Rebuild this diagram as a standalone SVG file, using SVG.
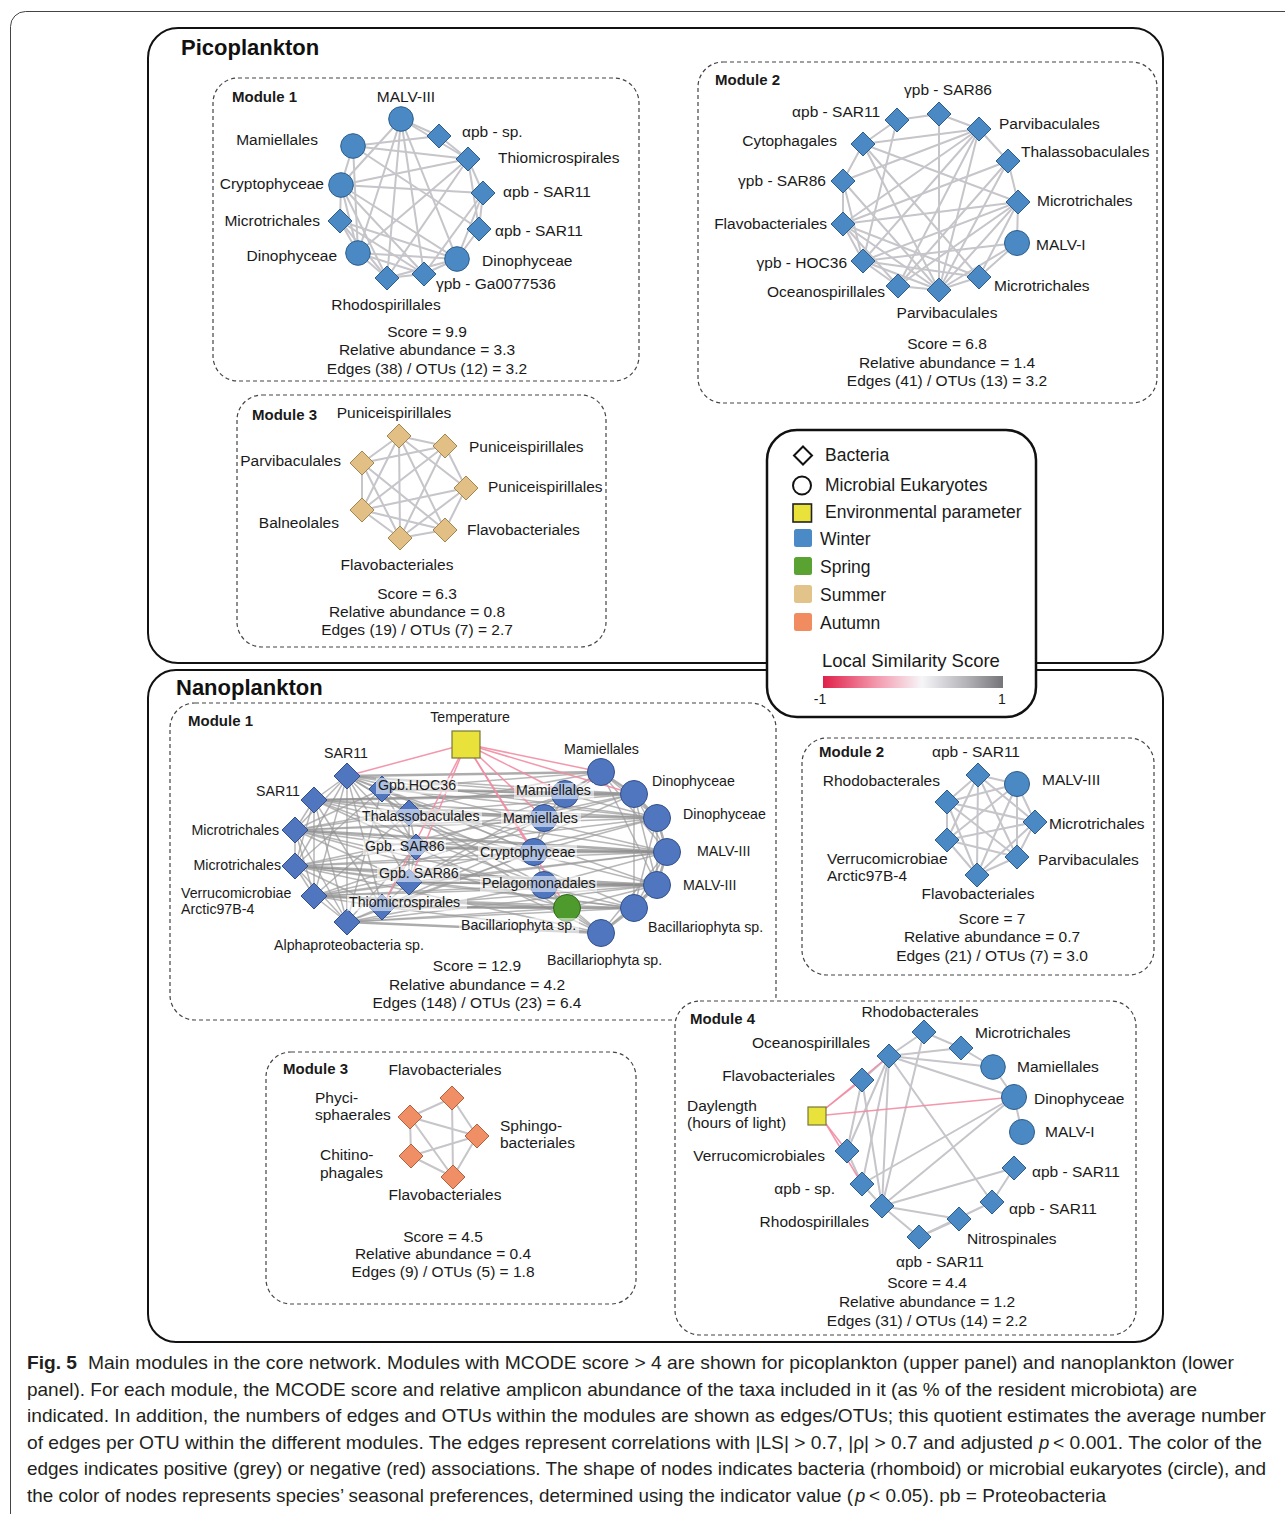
<svg xmlns="http://www.w3.org/2000/svg" xmlns:xlink="http://www.w3.org/1999/xlink" width="1285" height="1514" viewBox="0 0 1285 1514">
<style>
text{font-family:"Liberation Sans",Arial,Helvetica,sans-serif;fill:#1a1a1a}
.l{font-size:15.5px}
.s{font-size:14.2px}
.m{font-size:15px;font-weight:bold}
.c{text-anchor:middle}
.e{text-anchor:end}
.ttl{font-size:22px;font-weight:bold;fill:#111}
.lg{font-size:17.5px}
.cap{font-family:"Liberation Sans Narrow","Liberation Sans",Arial,sans-serif;font-size:18.5px;fill:#231f20}
.panel{fill:none;stroke:#111;stroke-width:2}
.box{fill:none;stroke:#444;stroke-width:1.2;stroke-dasharray:4 3}
.boxw{fill:#fff;stroke:#444;stroke-width:1.2;stroke-dasharray:4 3}
.g line{stroke:#c5c5ca;stroke-width:2;stroke-linecap:round}
.n1 line{stroke:#9a9a9a;stroke-width:1.5;opacity:.7}
.n1 line.t{stroke:#8a8a8a;stroke-width:2.6}
.neg line{stroke:#f28ca3;stroke-width:1.5;opacity:.9}
.w{fill:#4a89c4;stroke:#2c5d8c;stroke-width:1}
.w2{fill:#4f76bf;stroke:#34508a;stroke-width:1}
.sp{fill:#4f9a2c;stroke:#2f6b1a;stroke-width:1}
.su{fill:#e2c085;stroke:#a3864f;stroke-width:1}
.au{fill:#f08f65;stroke:#b4603c;stroke-width:1}
.ye{fill:#e8e23a;stroke:#77773a;stroke-width:1.2}
.bg{fill:#fff;opacity:.55}
</style>
<defs>
<path id="d" d="M0-12L12 0L0 12L-12 0Z"/>
<path id="dl" d="M0-13L13 0L0 13L-13 0Z"/>
<linearGradient id="lss" x1="0" y1="0" x2="1" y2="0">
<stop offset="0" stop-color="#e0204a"/>
<stop offset="0.3" stop-color="#f39aae"/>
<stop offset="0.55" stop-color="#f6f6f9"/>
<stop offset="0.8" stop-color="#b2b2b7"/>
<stop offset="1" stop-color="#757579"/>
</linearGradient>
</defs>
<rect width="1285" height="1514" fill="#fff"/>
<rect x="10.5" y="11.5" width="1320" height="1620" rx="15" fill="none" stroke="#444" stroke-width="1"/>

<!-- panels -->
<rect class="panel" x="148" y="28" width="1015" height="635" rx="30"/>
<rect class="panel" x="148" y="670" width="1015" height="672" rx="28"/>
<text class="ttl" x="181" y="55">Picoplankton</text>
<text class="ttl" x="176" y="695">Nanoplankton</text>

<!-- module boxes -->
<rect class="box" x="213" y="78" width="426" height="303" rx="25"/>
<rect class="box" x="698" y="62" width="459" height="341" rx="25"/>
<rect class="box" x="237" y="395" width="369" height="252" rx="25"/>
<rect class="box" x="170" y="703" width="606" height="317" rx="25"/>
<rect class="box" x="802" y="738" width="352" height="237" rx="25"/>
<rect class="box" x="266" y="1052" width="370" height="252" rx="25"/>
<rect class="boxw" x="675" y="1001" width="461" height="334" rx="25"/>

<!-- connectors -->
<g id="connectors">
<g class="g" id="pico-m1-edges">
<line x1="401" y1="119" x2="439" y2="136"/><line x1="401" y1="119" x2="468" y2="159"/><line x1="401" y1="119" x2="341" y2="185"/><line x1="401" y1="119" x2="358" y2="253"/><line x1="401" y1="119" x2="387" y2="278"/><line x1="401" y1="119" x2="424" y2="274"/><line x1="401" y1="119" x2="457" y2="259"/>
<line x1="353" y1="146" x2="439" y2="136"/><line x1="353" y1="146" x2="468" y2="159"/><line x1="353" y1="146" x2="479" y2="229"/><line x1="353" y1="146" x2="341" y2="185"/><line x1="353" y1="146" x2="358" y2="253"/>
<line x1="341" y1="185" x2="468" y2="159"/><line x1="341" y1="185" x2="483" y2="193"/><line x1="341" y1="185" x2="457" y2="259"/><line x1="341" y1="185" x2="424" y2="274"/><line x1="341" y1="185" x2="387" y2="278"/><line x1="341" y1="185" x2="340" y2="221"/><line x1="341" y1="185" x2="358" y2="253"/>
<line x1="340" y1="221" x2="358" y2="253"/><line x1="340" y1="221" x2="387" y2="278"/><line x1="340" y1="221" x2="457" y2="259"/><line x1="340" y1="221" x2="424" y2="274"/>
<line x1="358" y1="253" x2="387" y2="278"/><line x1="358" y1="253" x2="424" y2="274"/><line x1="358" y1="253" x2="457" y2="259"/><line x1="358" y1="253" x2="468" y2="159"/>
<line x1="387" y1="278" x2="424" y2="274"/><line x1="387" y1="278" x2="457" y2="259"/><line x1="387" y1="278" x2="468" y2="159"/>
<line x1="424" y1="274" x2="457" y2="259"/><line x1="424" y1="274" x2="483" y2="193"/>
<line x1="457" y1="259" x2="479" y2="229"/><line x1="457" y1="259" x2="483" y2="193"/>
<line x1="479" y1="229" x2="483" y2="193"/><line x1="479" y1="229" x2="468" y2="159"/><line x1="483" y1="193" x2="468" y2="159"/><line x1="468" y1="159" x2="439" y2="136"/>
</g>
<g class="g" id="pico-m2-edges">
<line x1="897" y1="120" x2="939" y2="114"/><line x1="939" y1="114" x2="979" y2="129"/><line x1="897" y1="120" x2="863" y2="144"/><line x1="897" y1="120" x2="863" y2="261"/><line x1="939" y1="114" x2="939" y2="290"/>
<line x1="979" y1="129" x2="863" y2="144"/><line x1="979" y1="129" x2="843" y2="181"/><line x1="979" y1="129" x2="843" y2="224"/><line x1="979" y1="129" x2="863" y2="261"/><line x1="979" y1="129" x2="898" y2="286"/><line x1="979" y1="129" x2="939" y2="290"/><line x1="979" y1="129" x2="1008" y2="161"/>
<line x1="863" y1="144" x2="843" y2="181"/><line x1="863" y1="144" x2="1018" y2="202"/><line x1="863" y1="144" x2="939" y2="290"/><line x1="863" y1="144" x2="979" y2="277"/>
<line x1="1008" y1="161" x2="1018" y2="202"/><line x1="1008" y1="161" x2="843" y2="224"/><line x1="1008" y1="161" x2="939" y2="290"/><line x1="1008" y1="161" x2="898" y2="286"/>
<line x1="843" y1="181" x2="843" y2="224"/><line x1="843" y1="181" x2="939" y2="290"/><line x1="843" y1="181" x2="863" y2="261"/>
<line x1="1018" y1="202" x2="843" y2="224"/><line x1="1018" y1="202" x2="863" y2="261"/><line x1="1018" y1="202" x2="898" y2="286"/><line x1="1018" y1="202" x2="939" y2="290"/><line x1="1018" y1="202" x2="1017" y2="243"/><line x1="1018" y1="202" x2="979" y2="277"/>
<line x1="843" y1="224" x2="863" y2="261"/><line x1="843" y1="224" x2="979" y2="277"/><line x1="843" y1="224" x2="939" y2="290"/><line x1="843" y1="224" x2="898" y2="286"/>
<line x1="1017" y1="243" x2="979" y2="277"/><line x1="1017" y1="243" x2="863" y2="261"/><line x1="1017" y1="243" x2="939" y2="290"/>
<line x1="863" y1="261" x2="898" y2="286"/><line x1="863" y1="261" x2="939" y2="290"/><line x1="863" y1="261" x2="979" y2="277"/>
<line x1="979" y1="277" x2="939" y2="290"/><line x1="898" y1="286" x2="939" y2="290"/>
</g>
<g class="g" id="pico-m3-edges">
<line x1="399" y1="436" x2="445" y2="446"/><line x1="399" y1="436" x2="362" y2="463"/><line x1="399" y1="436" x2="466" y2="488"/><line x1="399" y1="436" x2="362" y2="510"/><line x1="399" y1="436" x2="445" y2="530"/><line x1="399" y1="436" x2="400" y2="538"/>
<line x1="445" y1="446" x2="362" y2="463"/><line x1="445" y1="446" x2="466" y2="488"/><line x1="445" y1="446" x2="362" y2="510"/><line x1="445" y1="446" x2="400" y2="538"/>
<line x1="362" y1="463" x2="362" y2="510"/><line x1="362" y1="463" x2="445" y2="530"/><line x1="362" y1="463" x2="400" y2="538"/>
<line x1="466" y1="488" x2="362" y2="510"/><line x1="466" y1="488" x2="445" y2="530"/><line x1="466" y1="488" x2="400" y2="538"/>
<line x1="362" y1="510" x2="445" y2="530"/><line x1="362" y1="510" x2="400" y2="538"/><line x1="445" y1="530" x2="400" y2="538"/>
</g>
<g class="n1" id="nano-m1-edges">
<line x1="347" y1="776" x2="314" y2="800"/><line x1="347" y1="776" x2="295" y2="830"/><line x1="347" y1="776" x2="295" y2="866"/><line x1="347" y1="776" x2="314" y2="896"/><line x1="347" y1="776" x2="347" y2="922"/>
<line x1="314" y1="800" x2="295" y2="830"/><line x1="314" y1="800" x2="295" y2="866"/><line x1="314" y1="800" x2="314" y2="896"/><line x1="314" y1="800" x2="347" y2="922"/>
<line x1="295" y1="830" x2="295" y2="866"/><line x1="295" y1="830" x2="314" y2="896"/><line x1="295" y1="830" x2="347" y2="922"/>
<line x1="295" y1="866" x2="314" y2="896"/><line x1="295" y1="866" x2="347" y2="922"/><line x1="314" y1="896" x2="347" y2="922"/>
<line x1="347" y1="776" x2="382" y2="789"/><line x1="347" y1="776" x2="409" y2="813"/><line x1="347" y1="776" x2="416" y2="847"/><line x1="347" y1="776" x2="409" y2="882"/><line x1="347" y1="776" x2="382" y2="907"/>
<line x1="314" y1="800" x2="409" y2="813"/><line x1="314" y1="800" x2="416" y2="847"/><line x1="314" y1="800" x2="382" y2="907"/>
<line x1="295" y1="830" x2="382" y2="789"/><line x1="295" y1="830" x2="409" y2="813"/><line x1="295" y1="830" x2="416" y2="847"/><line x1="295" y1="830" x2="409" y2="882"/>
<line x1="295" y1="866" x2="382" y2="789"/><line x1="295" y1="866" x2="416" y2="847"/><line x1="295" y1="866" x2="409" y2="882"/><line x1="295" y1="866" x2="382" y2="907"/>
<line x1="314" y1="896" x2="409" y2="813"/><line x1="314" y1="896" x2="409" y2="882"/><line x1="314" y1="896" x2="382" y2="907"/>
<line x1="347" y1="922" x2="382" y2="789"/><line x1="347" y1="922" x2="416" y2="847"/><line x1="347" y1="922" x2="382" y2="907"/>
<line x1="347" y1="776" x2="565" y2="794"/><line class="t" x1="347" y1="776" x2="601" y2="772"/><line x1="347" y1="776" x2="634" y2="794"/><line x1="347" y1="776" x2="534" y2="852"/><line x1="347" y1="776" x2="667" y2="852"/><line x1="347" y1="776" x2="601" y2="933"/>
<line x1="314" y1="800" x2="565" y2="794"/><line class="t" x1="314" y1="800" x2="634" y2="794"/><line x1="314" y1="800" x2="544" y2="818"/><line x1="314" y1="800" x2="657" y2="818"/><line x1="314" y1="800" x2="544" y2="885"/>
<line x1="295" y1="830" x2="544" y2="818"/><line x1="295" y1="830" x2="534" y2="852"/><line class="t" x1="295" y1="830" x2="667" y2="852"/><line x1="295" y1="830" x2="657" y2="818"/><line x1="295" y1="830" x2="634" y2="908"/><line x1="295" y1="830" x2="567" y2="908"/>
<line x1="295" y1="866" x2="534" y2="852"/><line x1="295" y1="866" x2="544" y2="885"/><line class="t" x1="295" y1="866" x2="657" y2="885"/><line x1="295" y1="866" x2="667" y2="852"/><line x1="295" y1="866" x2="634" y2="794"/><line x1="295" y1="866" x2="634" y2="908"/>
<line x1="314" y1="896" x2="544" y2="885"/><line class="t" x1="314" y1="896" x2="567" y2="908"/><line x1="314" y1="896" x2="634" y2="908"/><line x1="314" y1="896" x2="657" y2="885"/><line x1="314" y1="896" x2="544" y2="818"/><line x1="314" y1="896" x2="657" y2="818"/>
<line x1="347" y1="922" x2="567" y2="908"/><line class="t" x1="347" y1="922" x2="601" y2="933"/><line x1="347" y1="922" x2="634" y2="908"/><line x1="347" y1="922" x2="544" y2="885"/><line x1="347" y1="922" x2="657" y2="885"/>
<line x1="382" y1="789" x2="565" y2="794"/><line x1="382" y1="789" x2="601" y2="772"/><line class="t" x1="382" y1="789" x2="634" y2="794"/><line x1="382" y1="789" x2="534" y2="852"/><line x1="382" y1="789" x2="657" y2="885"/>
<line x1="409" y1="813" x2="544" y2="818"/><line x1="409" y1="813" x2="634" y2="794"/><line class="t" x1="409" y1="813" x2="657" y2="818"/><line x1="409" y1="813" x2="544" y2="885"/><line x1="409" y1="813" x2="634" y2="908"/>
<line x1="416" y1="847" x2="534" y2="852"/><line x1="416" y1="847" x2="657" y2="818"/><line class="t" x1="416" y1="847" x2="667" y2="852"/><line x1="416" y1="847" x2="565" y2="794"/><line x1="416" y1="847" x2="601" y2="933"/>
<line x1="409" y1="882" x2="544" y2="885"/><line x1="409" y1="882" x2="667" y2="852"/><line class="t" x1="409" y1="882" x2="657" y2="885"/><line x1="409" y1="882" x2="544" y2="818"/><line x1="409" y1="882" x2="601" y2="772"/>
<line x1="382" y1="907" x2="567" y2="908"/><line class="t" x1="382" y1="907" x2="634" y2="908"/><line x1="382" y1="907" x2="601" y2="933"/><line x1="382" y1="907" x2="657" y2="885"/><line x1="382" y1="907" x2="534" y2="852"/>
<line class="t" x1="601" y1="772" x2="634" y2="794"/><line class="t" x1="634" y1="794" x2="657" y2="818"/><line class="t" x1="657" y1="818" x2="667" y2="852"/><line class="t" x1="667" y1="852" x2="657" y2="885"/><line class="t" x1="657" y1="885" x2="634" y2="908"/><line class="t" x1="634" y1="908" x2="601" y2="933"/>
<line x1="601" y1="772" x2="565" y2="794"/><line x1="601" y1="772" x2="657" y2="818"/><line x1="601" y1="772" x2="667" y2="852"/><line x1="601" y1="772" x2="544" y2="818"/>
<line x1="634" y1="794" x2="667" y2="852"/><line x1="634" y1="794" x2="657" y2="885"/><line x1="634" y1="794" x2="544" y2="818"/>
<line x1="657" y1="818" x2="657" y2="885"/><line x1="657" y1="818" x2="634" y2="908"/><line x1="657" y1="818" x2="534" y2="852"/>
<line x1="667" y1="852" x2="634" y2="908"/><line x1="667" y1="852" x2="601" y2="933"/><line x1="667" y1="852" x2="544" y2="885"/>
<line x1="657" y1="885" x2="601" y2="933"/><line x1="657" y1="885" x2="567" y2="908"/><line x1="634" y1="908" x2="567" y2="908"/><line x1="601" y1="933" x2="567" y2="908"/><line x1="601" y1="933" x2="544" y2="885"/>
<line x1="565" y1="794" x2="544" y2="818"/><line x1="544" y1="818" x2="534" y2="852"/><line x1="534" y1="852" x2="544" y2="885"/><line x1="544" y1="885" x2="567" y2="908"/>
<line x1="565" y1="794" x2="634" y2="794"/><line x1="565" y1="794" x2="657" y2="818"/><line class="t" x1="534" y1="852" x2="667" y2="852"/><line class="t" x1="544" y1="885" x2="657" y2="885"/><line x1="634" y1="794" x2="634" y2="908"/><line x1="601" y1="772" x2="657" y2="885"/><line x1="565" y1="794" x2="534" y2="852"/>
<line x1="382" y1="789" x2="409" y2="813"/><line x1="409" y1="813" x2="416" y2="847"/><line x1="416" y1="847" x2="409" y2="882"/><line x1="409" y1="882" x2="382" y2="907"/><line x1="382" y1="789" x2="416" y2="847"/><line x1="409" y1="813" x2="409" y2="882"/><line x1="416" y1="847" x2="382" y2="907"/>
<line x1="382" y1="789" x2="657" y2="818"/><line x1="409" y1="813" x2="667" y2="852"/><line x1="409" y1="882" x2="634" y2="908"/><line x1="382" y1="907" x2="634" y2="794"/><line x1="347" y1="776" x2="657" y2="818"/><line x1="314" y1="800" x2="657" y2="885"/><line x1="347" y1="922" x2="534" y2="852"/><line x1="295" y1="830" x2="601" y2="772"/><line x1="295" y1="866" x2="601" y2="933"/><line x1="314" y1="896" x2="667" y2="852"/>
</g>
<g class="neg" id="nano-m1-neg">
<line x1="466" y1="744" x2="347" y2="776"/><line x1="466" y1="744" x2="601" y2="772"/><line x1="466" y1="744" x2="634" y2="794"/><line x1="466" y1="744" x2="565" y2="794"/><line x1="466" y1="744" x2="544" y2="818"/><line x1="466" y1="744" x2="534" y2="852"/><line x1="466" y1="744" x2="567" y2="908"/><line x1="466" y1="744" x2="382" y2="907"/><line x1="466" y1="744" x2="409" y2="882"/>
</g>
<g class="g" id="nano-m2-edges">
<line x1="978" y1="775" x2="1017" y2="784"/><line x1="978" y1="775" x2="947" y2="802"/><line x1="978" y1="775" x2="1035" y2="822"/><line x1="978" y1="775" x2="947" y2="840"/><line x1="978" y1="775" x2="1017" y2="857"/><line x1="978" y1="775" x2="977" y2="875"/>
<line x1="1017" y1="784" x2="947" y2="802"/><line x1="1017" y1="784" x2="1035" y2="822"/><line x1="1017" y1="784" x2="947" y2="840"/><line x1="1017" y1="784" x2="1017" y2="857"/><line x1="1017" y1="784" x2="977" y2="875"/>
<line x1="947" y1="802" x2="1035" y2="822"/><line x1="947" y1="802" x2="947" y2="840"/><line x1="947" y1="802" x2="1017" y2="857"/><line x1="947" y1="802" x2="977" y2="875"/>
<line x1="1035" y1="822" x2="947" y2="840"/><line x1="1035" y1="822" x2="1017" y2="857"/><line x1="1035" y1="822" x2="977" y2="875"/>
<line x1="947" y1="840" x2="1017" y2="857"/><line x1="947" y1="840" x2="977" y2="875"/><line x1="1017" y1="857" x2="977" y2="875"/>
</g>
<g class="g" id="nano-m3-edges">
<line x1="452" y1="1098" x2="410" y2="1117"/><line x1="452" y1="1098" x2="477" y2="1136"/><line x1="452" y1="1098" x2="453" y2="1177"/><line x1="410" y1="1117" x2="477" y2="1136"/><line x1="410" y1="1117" x2="411" y2="1156"/><line x1="410" y1="1117" x2="453" y2="1177"/><line x1="411" y1="1156" x2="477" y2="1136"/><line x1="411" y1="1156" x2="453" y2="1177"/><line x1="477" y1="1136" x2="453" y2="1177"/>
</g>
<g class="g" id="nano-m4-edges">
<line x1="924" y1="1032" x2="889" y2="1056"/><line x1="924" y1="1032" x2="961" y2="1048"/><line x1="924" y1="1032" x2="882" y2="1206"/>
<line x1="889" y1="1056" x2="961" y2="1048"/><line x1="889" y1="1056" x2="993" y2="1067"/><line x1="889" y1="1056" x2="1014" y2="1097"/><line x1="889" y1="1056" x2="862" y2="1080"/><line x1="889" y1="1056" x2="847" y2="1151"/><line x1="889" y1="1056" x2="862" y2="1184"/><line x1="889" y1="1056" x2="882" y2="1206"/><line x1="889" y1="1056" x2="992" y2="1202"/>
<line x1="961" y1="1048" x2="993" y2="1067"/><line x1="993" y1="1067" x2="1014" y2="1097"/><line x1="1014" y1="1097" x2="1022" y2="1132"/>
<line x1="1014" y1="1097" x2="862" y2="1184"/><line x1="1014" y1="1097" x2="882" y2="1206"/>
<line x1="862" y1="1080" x2="847" y2="1151"/><line x1="862" y1="1080" x2="882" y2="1206"/>
<line x1="847" y1="1151" x2="862" y2="1184"/><line x1="862" y1="1184" x2="882" y2="1206"/>
<line x1="882" y1="1206" x2="919" y2="1237"/><line x1="882" y1="1206" x2="959" y2="1219"/><line x1="882" y1="1206" x2="1014" y2="1168"/>
<line x1="919" y1="1237" x2="959" y2="1219"/><line x1="919" y1="1237" x2="992" y2="1202"/><line x1="992" y1="1202" x2="1014" y2="1168"/>
</g>
<g class="neg" id="nano-m4-neg">
<line x1="826" y1="1108" x2="889" y2="1056"/><line x1="826" y1="1108" x2="862" y2="1080"/><line x1="826" y1="1115" x2="1014" y2="1097"/><line x1="826" y1="1124" x2="847" y2="1151"/><line x1="826" y1="1124" x2="862" y2="1184"/>
</g>
</g>

<!-- Pico module 1 -->
<g id="pico-m1">
<text class="m" x="232" y="102">Module 1</text>
<g id="p1-malv"><circle class="w" cx="401" cy="119" r="12.3"/><text class="l c" x="406" y="102">MALV-III</text></g>
<g id="p1-asp"><use href="#d" class="w" x="439" y="136"/><text class="l" x="462" y="137">αpb - sp.</text></g>
<g id="p1-thio"><use href="#d" class="w" x="468" y="159"/><text class="l" x="498" y="163">Thiomicrospirales</text></g>
<g id="p1-sar11a"><use href="#d" class="w" x="483" y="193"/><text class="l" x="503" y="197">αpb - SAR11</text></g>
<g id="p1-sar11b"><use href="#d" class="w" x="479" y="229"/><text class="l" x="495" y="236">αpb - SAR11</text></g>
<g id="p1-dinor"><circle class="w" cx="457" cy="259" r="12.3"/><text class="l" x="482" y="266">Dinophyceae</text></g>
<g id="p1-gpb"><use href="#d" class="w" x="424" y="274"/><text class="l" x="436" y="289">γpb - Ga0077536</text></g>
<g id="p1-rhodo"><use href="#d" class="w" x="387" y="278"/><text class="l c" x="386" y="310">Rhodospirillales</text></g>
<g id="p1-dinol"><circle class="w" cx="358" cy="253" r="12.3"/><text class="l e" x="337" y="261">Dinophyceae</text></g>
<g id="p1-micro"><use href="#d" class="w" x="340" y="221"/><text class="l e" x="320" y="226">Microtrichales</text></g>
<g id="p1-crypto"><circle class="w" cx="341" cy="185" r="12.3"/><text class="l e" x="324" y="189">Cryptophyceae</text></g>
<g id="p1-mamiel"><circle class="w" cx="353" cy="146" r="12.3"/><text class="l e" x="318" y="145">Mamiellales</text></g>
<text class="l c" x="427" y="337">Score = 9.9</text>
<text class="l c" x="427" y="355">Relative abundance = 3.3</text>
<text class="l c" x="427" y="374">Edges (38) / OTUs (12) = 3.2</text>
</g>

<!-- Pico module 2 -->
<g id="pico-m2">
<text class="m" x="715" y="85">Module 2</text>
<g id="p2-sar86t"><use href="#d" class="w" x="939" y="114"/><text class="l c" x="948" y="95">γpb - SAR86</text></g>
<g id="p2-sar11"><use href="#d" class="w" x="897" y="120"/><text class="l e" x="880" y="117">αpb - SAR11</text></g>
<g id="p2-parvi"><use href="#d" class="w" x="979" y="129"/><text class="l" x="999" y="129">Parvibaculales</text></g>
<g id="p2-cyto"><use href="#d" class="w" x="863" y="144"/><text class="l e" x="837" y="146">Cytophagales</text></g>
<g id="p2-thal"><use href="#d" class="w" x="1008" y="161"/><text class="l" x="1021" y="157">Thalassobaculales</text></g>
<g id="p2-sar86"><use href="#d" class="w" x="843" y="181"/><text class="l e" x="826" y="186">γpb - SAR86</text></g>
<g id="p2-micro"><use href="#d" class="w" x="1018" y="202"/><text class="l" x="1037" y="206">Microtrichales</text></g>
<g id="p2-flavo"><use href="#d" class="w" x="843" y="224"/><text class="l e" x="827" y="229">Flavobacteriales</text></g>
<g id="p2-malv"><circle class="w" cx="1017" cy="243" r="12.5"/><text class="l" x="1036" y="250">MALV-I</text></g>
<g id="p2-hoc36"><use href="#d" class="w" x="863" y="261"/><text class="l e" x="847" y="268">γpb - HOC36</text></g>
<g id="p2-micro2"><use href="#d" class="w" x="979" y="277"/><text class="l" x="994" y="291">Microtrichales</text></g>
<g id="p2-oceano"><use href="#d" class="w" x="898" y="286"/><text class="l e" x="885" y="297">Oceanospirillales</text></g>
<g id="p2-parvi2"><use href="#d" class="w" x="939" y="290"/><text class="l c" x="947" y="318">Parvibaculales</text></g>
<text class="l c" x="947" y="349">Score = 6.8</text>
<text class="l c" x="947" y="368">Relative abundance = 1.4</text>
<text class="l c" x="947" y="386">Edges (41) / OTUs (13) = 3.2</text>
</g>

<!-- Pico module 3 -->
<g id="pico-m3">
<text class="m" x="252" y="420">Module 3</text>
<g id="p3-puni1"><use href="#d" class="su" x="399" y="436"/><text class="l c" x="394" y="418">Puniceispirillales</text></g>
<g id="p3-puni2"><use href="#d" class="su" x="445" y="446"/><text class="l" x="469" y="452">Puniceispirillales</text></g>
<g id="p3-parvi"><use href="#d" class="su" x="362" y="463"/><text class="l e" x="341" y="466">Parvibaculales</text></g>
<g id="p3-puni3"><use href="#d" class="su" x="466" y="488"/><text class="l" x="488" y="492">Puniceispirillales</text></g>
<g id="p3-balneo"><use href="#d" class="su" x="362" y="510"/><text class="l e" x="339" y="528">Balneolales</text></g>
<g id="p3-flavo1"><use href="#d" class="su" x="445" y="530"/><text class="l" x="467" y="535">Flavobacteriales</text></g>
<g id="p3-flavo2"><use href="#d" class="su" x="400" y="538"/><text class="l c" x="397" y="570">Flavobacteriales</text></g>
<text class="l c" x="417" y="599">Score = 6.3</text>
<text class="l c" x="417" y="617">Relative abundance = 0.8</text>
<text class="l c" x="417" y="635">Edges (19) / OTUs (7) = 2.7</text>
</g>

<!-- Nano module 1 -->
<g id="nano-m1">
<text class="m" x="188" y="726">Module 1</text>
<g id="n1-temp"><rect class="ye" x="452" y="731" width="28" height="27"/><text class="s c" x="470" y="722">Temperature</text></g>
<g id="n1-sar11a"><use href="#dl" class="w2" x="347" y="776"/><text class="s c" x="346" y="758">SAR11</text></g>
<g id="n1-sar11b"><use href="#dl" class="w2" x="314" y="800"/><text class="s e" x="300" y="796">SAR11</text></g>
<g id="n1-micro1"><use href="#dl" class="w2" x="295" y="830"/><text class="s e" x="279" y="835">Microtrichales</text></g>
<g id="n1-micro2"><use href="#dl" class="w2" x="295" y="866"/><text class="s e" x="281" y="870">Microtrichales</text></g>
<g id="n1-verru"><use href="#dl" class="w2" x="314" y="896"/><text class="s" x="181" y="898">Verrucomicrobiae</text><text class="s" x="181" y="914">Arctic97B-4</text></g>
<g id="n1-alpha"><use href="#dl" class="w2" x="347" y="922"/><text class="s c" x="349" y="950">Alphaproteobacteria sp.</text></g>
<g id="n1-mamo"><circle class="w2" cx="601" cy="772" r="13.5"/><text class="s" x="564" y="754">Mamiellales</text></g>
<g id="n1-dino1"><circle class="w2" cx="634" cy="794" r="13.5"/><text class="s" x="652" y="786">Dinophyceae</text></g>
<g id="n1-dino2"><circle class="w2" cx="657" cy="818" r="13.5"/><text class="s" x="683" y="819">Dinophyceae</text></g>
<g id="n1-malv1"><circle class="w2" cx="667" cy="852" r="13.5"/><text class="s" x="697" y="856">MALV-III</text></g>
<g id="n1-malv2"><circle class="w2" cx="657" cy="885" r="13.5"/><text class="s" x="683" y="890">MALV-III</text></g>
<g id="n1-bac1"><circle class="w2" cx="634" cy="908" r="13.5"/><text class="s" x="648" y="932">Bacillariophyta sp.</text></g>
<g id="n1-bac2"><circle class="w2" cx="601" cy="933" r="13.5"/><text class="s" x="547" y="965">Bacillariophyta sp.</text></g>
<g id="n1-hoc36"><use href="#dl" class="w2" x="382" y="789"/><rect class="bg" x="376" y="778" width="82" height="16"/><text class="s" x="378" y="790">Gpb.HOC36</text></g>
<g id="n1-thal"><use href="#dl" class="w2" x="409" y="813"/><rect class="bg" x="360" y="809" width="122" height="16"/><text class="s" x="362" y="821">Thalassobaculales</text></g>
<g id="n1-sar86a"><use href="#dl" class="w2" x="416" y="847"/><rect class="bg" x="363" y="839" width="83" height="16"/><text class="s" x="365" y="851">Gpb. SAR86</text></g>
<g id="n1-sar86b"><use href="#dl" class="w2" x="409" y="882"/><rect class="bg" x="377" y="866" width="83" height="16"/><text class="s" x="379" y="878">Gpb. SAR86</text></g>
<g id="n1-thio"><use href="#dl" class="w2" x="382" y="907"/><rect class="bg" x="347" y="895" width="120" height="16"/><text class="s" x="349" y="907">Thiomicrospirales</text></g>
<g id="n1-mami1"><circle class="w2" cx="565" cy="794" r="13.5"/><rect class="bg" x="514" y="783" width="80" height="16"/><text class="s" x="516" y="795">Mamiellales</text></g>
<g id="n1-mami2"><circle class="w2" cx="544" cy="818" r="13.5"/><rect class="bg" x="501" y="811" width="80" height="16"/><text class="s" x="503" y="823">Mamiellales</text></g>
<g id="n1-crypto"><circle class="w2" cx="534" cy="852" r="13.5"/><rect class="bg" x="478" y="845" width="99" height="16"/><text class="s" x="480" y="857">Cryptophyceae</text></g>
<g id="n1-pelago"><circle class="w2" cx="544" cy="885" r="13.5"/><rect class="bg" x="480" y="876" width="117" height="16"/><text class="s" x="482" y="888">Pelagomonadales</text></g>
<g id="n1-bacg"><circle class="sp" cx="567" cy="908" r="13.5"/><rect class="bg" x="459" y="918" width="120" height="16"/><text class="s" x="461" y="930">Bacillariophyta sp.</text></g>
<text class="l c" x="477" y="971">Score = 12.9</text>
<text class="l c" x="477" y="990">Relative abundance = 4.2</text>
<text class="l c" x="477" y="1008">Edges (148) / OTUs (23) = 6.4</text>
</g>

<!-- Nano module 2 -->
<g id="nano-m2">
<text class="m" x="819" y="757">Module 2</text>
<g id="n2-sar11"><use href="#d" class="w" x="978" y="775"/><text class="l c" x="976" y="757">αpb - SAR11</text></g>
<g id="n2-malv"><circle class="w" cx="1017" cy="784" r="12.5"/><text class="l" x="1042" y="785">MALV-III</text></g>
<g id="n2-rhodo"><use href="#d" class="w" x="947" y="802"/><text class="l e" x="940" y="786">Rhodobacterales</text></g>
<g id="n2-micro"><use href="#d" class="w" x="1035" y="822"/><text class="l" x="1049" y="829">Microtrichales</text></g>
<g id="n2-verru"><use href="#d" class="w" x="947" y="840"/><text class="l" x="827" y="864">Verrucomicrobiae</text><text class="l" x="827" y="881">Arctic97B-4</text></g>
<g id="n2-parvi"><use href="#d" class="w" x="1017" y="857"/><text class="l" x="1038" y="865">Parvibaculales</text></g>
<g id="n2-flavo"><use href="#d" class="w" x="977" y="875"/><text class="l c" x="978" y="899">Flavobacteriales</text></g>
<text class="l c" x="992" y="924">Score = 7</text>
<text class="l c" x="992" y="942">Relative abundance = 0.7</text>
<text class="l c" x="992" y="961">Edges (21) / OTUs (7) = 3.0</text>
</g>

<!-- Nano module 3 -->
<g id="nano-m3">
<text class="m" x="283" y="1074">Module 3</text>
<g id="n3-flavo1"><use href="#d" class="au" x="452" y="1098"/><text class="l c" x="445" y="1075">Flavobacteriales</text></g>
<g id="n3-phyci"><use href="#d" class="au" x="410" y="1117"/><text class="l" x="315" y="1103">Phyci-</text><text class="l" x="315" y="1120">sphaerales</text></g>
<g id="n3-sphingo"><use href="#d" class="au" x="477" y="1136"/><text class="l" x="500" y="1131">Sphingo-</text><text class="l" x="500" y="1148">bacteriales</text></g>
<g id="n3-chitino"><use href="#d" class="au" x="411" y="1156"/><text class="l" x="320" y="1160">Chitino-</text><text class="l" x="320" y="1178">phagales</text></g>
<g id="n3-flavo2"><use href="#d" class="au" x="453" y="1177"/><text class="l c" x="445" y="1200">Flavobacteriales</text></g>
<text class="l c" x="443" y="1242">Score = 4.5</text>
<text class="l c" x="443" y="1259">Relative abundance = 0.4</text>
<text class="l c" x="443" y="1277">Edges (9) / OTUs (5) = 1.8</text>
</g>

<!-- Nano module 4 -->
<g id="nano-m4">
<text class="m" x="690" y="1024">Module 4</text>
<g id="n4-rhodob"><use href="#d" class="w" x="924" y="1032"/><text class="l c" x="920" y="1017">Rhodobacterales</text></g>
<g id="n4-micro"><use href="#d" class="w" x="961" y="1048"/><text class="l" x="975" y="1038">Microtrichales</text></g>
<g id="n4-oceano"><use href="#d" class="w" x="889" y="1056"/><text class="l e" x="870" y="1048">Oceanospirillales</text></g>
<g id="n4-mami"><circle class="w" cx="993" cy="1067" r="12.3"/><text class="l" x="1017" y="1072">Mamiellales</text></g>
<g id="n4-flavo"><use href="#d" class="w" x="862" y="1080"/><text class="l e" x="835" y="1081">Flavobacteriales</text></g>
<g id="n4-dino"><circle class="w" cx="1014" cy="1097" r="12.5"/><text class="l" x="1034" y="1104">Dinophyceae</text></g>
<g id="n4-day"><rect class="ye" x="808" y="1107" width="18" height="18"/><text class="l" x="687" y="1111">Daylength</text><text class="l" x="687" y="1128">(hours of light)</text></g>
<g id="n4-malv"><circle class="w" cx="1022" cy="1132" r="12.5"/><text class="l" x="1045" y="1137">MALV-I</text></g>
<g id="n4-verru"><use href="#d" class="w" x="847" y="1151"/><text class="l e" x="825" y="1161">Verrucomicrobiales</text></g>
<g id="n4-sar11a"><use href="#d" class="w" x="1014" y="1168"/><text class="l" x="1032" y="1177">αpb - SAR11</text></g>
<g id="n4-asp"><use href="#d" class="w" x="862" y="1184"/><text class="l e" x="835" y="1194">αpb - sp.</text></g>
<g id="n4-sar11b"><use href="#d" class="w" x="992" y="1202"/><text class="l" x="1009" y="1214">αpb - SAR11</text></g>
<g id="n4-rhodos"><use href="#d" class="w" x="882" y="1206"/><text class="l e" x="869" y="1227">Rhodospirillales</text></g>
<g id="n4-nitro"><use href="#d" class="w" x="959" y="1219"/><text class="l" x="967" y="1244">Nitrospinales</text></g>
<g id="n4-sar11c"><use href="#d" class="w" x="919" y="1237"/><text class="l c" x="940" y="1267">αpb - SAR11</text></g>
<text class="l c" x="927" y="1288">Score = 4.4</text>
<text class="l c" x="927" y="1307">Relative abundance = 1.2</text>
<text class="l c" x="927" y="1326">Edges (31) / OTUs (14) = 2.2</text>
</g>

<!-- Legend -->
<g id="legend">
<rect x="767" y="430" width="269" height="287" rx="30" fill="#fff" stroke="#111" stroke-width="2.5"/>
<path d="M803 446.5L812 455.5L803 464.5L794 455.5Z" fill="#fff" stroke="#111" stroke-width="2"/>
<circle cx="802" cy="485.5" r="9" fill="#fff" stroke="#111" stroke-width="2"/>
<rect x="793" y="504" width="18.5" height="18" fill="#e8e23a" stroke="#222" stroke-width="1.6"/>
<rect x="794" y="529" width="18" height="18" rx="2.5" fill="#4a8ac6"/>
<rect x="794" y="557" width="18" height="18" rx="2.5" fill="#5aa332"/>
<rect x="794" y="585" width="18" height="18" rx="2.5" fill="#e2c38a"/>
<rect x="794" y="613" width="18" height="18" rx="2.5" fill="#f08c60"/>
<text class="lg" x="825" y="461">Bacteria</text>
<text class="lg" x="825" y="491">Microbial Eukaryotes</text>
<text class="lg" x="825" y="518">Environmental parameter</text>
<text class="lg" x="820" y="545">Winter</text>
<text class="lg" x="820" y="573">Spring</text>
<text class="lg" x="820" y="601">Summer</text>
<text class="lg" x="820" y="629">Autumn</text>
<text x="822" y="667" style="font-size:18.5px">Local Similarity Score</text>
<rect x="823" y="676" width="180" height="12" fill="url(#lss)"/>
<text x="820" y="704" style="font-size:14px" text-anchor="middle">-1</text>
<text x="1002" y="704" style="font-size:14px" text-anchor="middle">1</text>
</g>

<!-- Caption -->
<g id="caption">
<text class="cap" x="27" y="1369" textLength="50" lengthAdjust="spacingAndGlyphs" style="font-weight:bold">Fig. 5</text>
<text class="cap" x="88" y="1369" textLength="1146" lengthAdjust="spacingAndGlyphs">Main modules in the core network. Modules with MCODE score &gt; 4 are shown for picoplankton (upper panel) and nanoplankton (lower</text>
<text class="cap" x="27" y="1396" textLength="1170" lengthAdjust="spacingAndGlyphs">panel). For each module, the MCODE score and relative amplicon abundance of the taxa included in it (as % of the resident microbiota) are</text>
<text class="cap" x="27" y="1422" textLength="1239" lengthAdjust="spacingAndGlyphs">indicated. In addition, the numbers of edges and OTUs within the modules are shown as edges/OTUs; this quotient estimates the average number</text>
<text class="cap" x="27" y="1449" textLength="1006" lengthAdjust="spacingAndGlyphs">of edges per OTU within the different modules. The edges represent correlations with |LS| &gt; 0.7, |ρ| &gt; 0.7 and adjusted</text>
<text class="cap" x="1039" y="1449" style="font-style:italic">p</text>
<text class="cap" x="1053" y="1449" textLength="209" lengthAdjust="spacingAndGlyphs">&lt; 0.001. The color of the</text>
<text class="cap" x="27" y="1475" textLength="1239" lengthAdjust="spacingAndGlyphs">edges indicates positive (grey) or negative (red) associations. The shape of nodes indicates bacteria (rhomboid) or microbial eukaryotes (circle), and</text>
<text class="cap" x="27" y="1502" textLength="826" lengthAdjust="spacingAndGlyphs">the color of nodes represents species’ seasonal preferences, determined using the indicator value (</text>
<text class="cap" x="855" y="1502" style="font-style:italic">p</text>
<text class="cap" x="869" y="1502" textLength="237" lengthAdjust="spacingAndGlyphs">&lt; 0.05). pb = Proteobacteria</text>
</g>
</svg>
